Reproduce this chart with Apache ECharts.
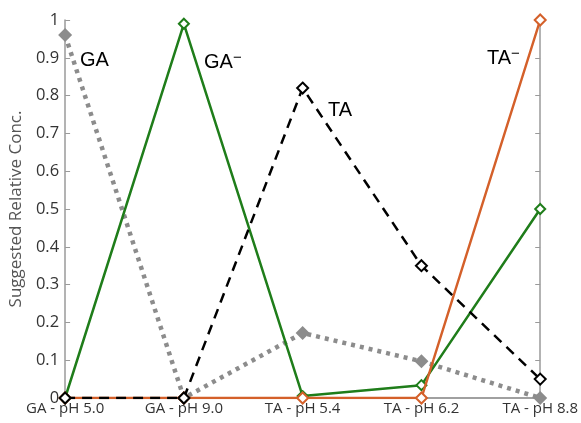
<!DOCTYPE html>
<html><head><meta charset="utf-8">
<script src="https://cdn.jsdelivr.net/npm/echarts@6/dist/echarts.min.js"></script>
<style>html,body{margin:0;padding:0;background:#fff}#c{width:581px;height:423px}</style>
</head><body><div id="c"></div>
<script>
const categories = ['GA - pH 5.0','GA - pH 9.0','TA - pH 5.4','TA - pH 6.2','TA - pH 8.8'];
const gaValues = [0.96, 0, 0.172, 0.097, 0];
const gaMinusValues = [0, 0.99, 0.005, 0.034, 0.5];
const taValues = [0, 0, 0.82, 0.35, 0.05];
const taMinusValues = [0, 0, 0, 0, 1];
const yTicks = [0,0.1,0.2,0.3,0.4,0.5,0.6,0.7,0.8,0.9,1];

const chart = echarts.init(document.getElementById('c'));
const axisColor = '#9a9a9a';
const hollow = (color) => ({color:'#fff', borderColor:color, borderWidth:2});
const labelRich = {
  b:{fontSize:20, fontFamily:'Liberation Sans', color:'#111', lineHeight:24},
  s:{fontSize:15, fontFamily:'Liberation Sans', color:'#111', lineHeight:24, padding:[0,0,10,0]}
};
chart.setOption({
  animation:false,
  grid:{left:64, right:40, top:20, bottom:25},
  xAxis:[{
    type:'category', data:categories, boundaryGap:false,
    axisLine:{lineStyle:{color:axisColor, width:1.5}},
    axisTick:{show:false},
    axisLabel:{color:'#333', fontSize:15, fontFamily:'Open Sans', margin:3},
    splitLine:{show:false}
  },{
    type:'category', data:categories, boundaryGap:false, position:'top',
    axisLine:{lineStyle:{color:axisColor, width:1.5}},
    axisTick:{inside:true, length:5, lineStyle:{color:axisColor}},
    axisLabel:{show:false}
  }],
  yAxis:[{
    type:'value', min:0, max:1, interval:0.1,
    name:'Suggested Relative Conc.', nameLocation:'middle', nameGap:36,
    nameTextStyle:{color:'#555', fontSize:17, fontFamily:'Open Sans'},
    axisLine:{show:true, lineStyle:{color:axisColor, width:1.5}},
    axisTick:{show:true, inside:true, length:5, lineStyle:{color:axisColor}},
    axisLabel:{color:'#333', fontSize:16.5, fontFamily:'Open Sans', margin:6,
      formatter:(v)=>{const t=yTicks.find(x=>Math.abs(x-v)<1e-9); return String(+t.toFixed(1));}},
    splitLine:{show:false}
  },{
    type:'value', min:0, max:1, interval:0.1, position:'right',
    axisLine:{show:true, lineStyle:{color:axisColor, width:1.5}},
    axisTick:{show:true, inside:true, length:5, lineStyle:{color:axisColor}},
    axisLabel:{show:false}, splitLine:{show:false}
  }],
  series:[
    {name:'GA', type:'line', data:gaValues, symbol:'diamond', symbolSize:14,
      lineStyle:{color:'#8c8c8c', width:4.5, type:[4,5]},
      itemStyle:{color:'#8c8c8c'}, z:2},
    {name:'GA⁻', type:'line', data:gaMinusValues, symbol:'diamond', symbolSize:10,
      lineStyle:{color:'#1f7d1a', width:2.5},
      itemStyle:hollow('#1f7d1a'), z:3},
    {name:'TA⁻', type:'line', data:taMinusValues, symbol:'diamond', symbolSize:11,
      lineStyle:{color:'#d4602a', width:2.5},
      itemStyle:hollow('#d4602a'), z:4},
    {name:'TA', type:'line', data:taValues, symbol:'diamond', symbolSize:11,
      lineStyle:{color:'#000', width:2.5, type:[10,7]},
      itemStyle:hollow('#000'), z:5}
  ],
  graphic:[
    {type:'text', left:80, top:50, style:{text:'{b|GA}', rich:labelRich}},
    {type:'text', left:204, top:50, style:{text:'{b|GA}{s|−}', rich:labelRich}},
    {type:'text', left:328, top:100, style:{text:'{b|TA}', rich:labelRich}},
    {type:'text', left:487, top:46, style:{text:'{b|TA}{s|−}', rich:labelRich}}
  ]
});
</script></body></html>
